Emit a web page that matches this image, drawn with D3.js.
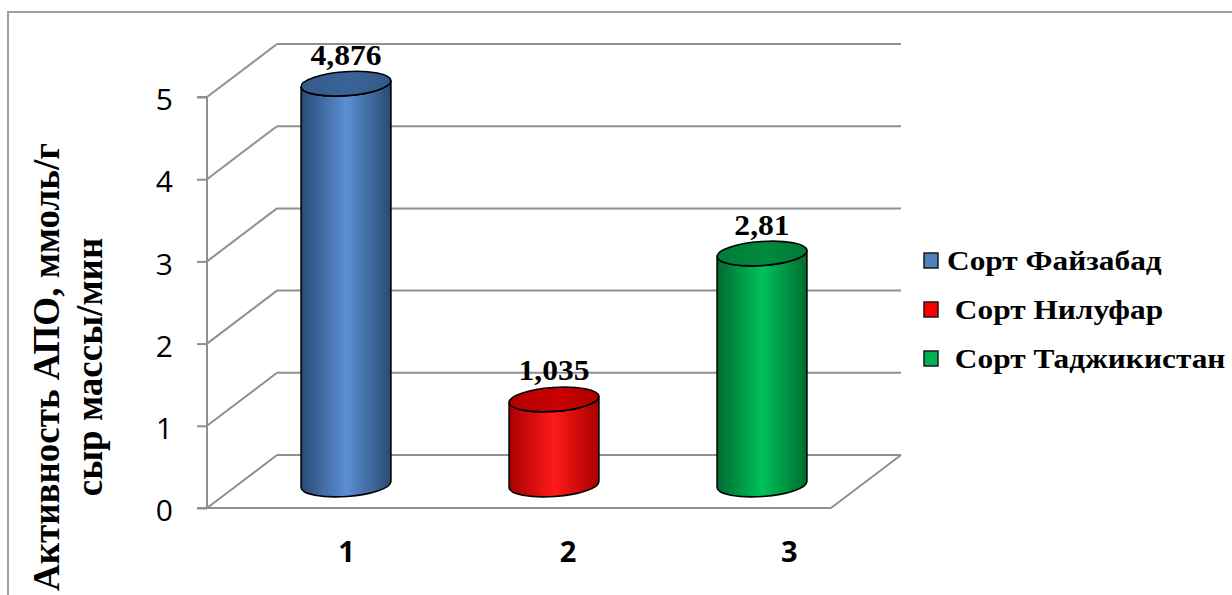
<!DOCTYPE html>
<html>
<head>
<meta charset="utf-8">
<script src="https://cdn.jsdelivr.net/npm/d3@7"></script>
<style>
  html, body { margin: 0; padding: 0; background: #fff; }
  svg { display: block; }
</style>
</head>
<body>
<svg id="chart" width="1232" height="595"></svg>
<script>
// Activity of ascorbate peroxidase (APO) in three varieties
const categories = ["1", "2", "3"];
const seriesNames = ["Сорт Файзабад", " Сорт Нилуфар", " Сорт Таджикистан"];
const values = [4.876, 1.035, 2.81];
const valueLabels = ["4,876", "1,035", "2,81"];
const yTicks = [0, 1, 2, 3, 4, 5];
const axisTitle = ["Активность АПО, ммоль/г", "сыр массы/мин"];

const fills = [
  { edge: "#2a4a74", mid: "#5b8fd4", top: "#3a6498", swatch: "#4f81bd" },
  { edge: "#a80000", mid: "#ff1a1a", top: "#c80000", swatch: "#ff0000" },
  { edge: "#006b30", mid: "#00c25a", top: "#008a3e", swatch: "#00b050" }
];

const svg = d3.select("#chart");
const gridColor = "#8f8f8f";
const serif = "'Liberation Serif', 'Times New Roman', serif";

// depth offset of the back wall relative to the front plane
const DX = 70, DY = -53;

const x = d3.scaleBand().domain(categories).range([207, 831]).padding(0);
const xLabel = d3.scaleBand().domain(categories).range([236, 900]).padding(0);
const y = d3.scaleLinear().domain([0, 5]).range([508, 97]);

// text drawn slightly wide, as in the original layout
function wideText(parent, tx, ty, sx, str, size, anchor) {
  return parent.append("text")
    .attr("transform", `translate(${tx},${ty}) scale(${sx},1)`)
    .attr("text-anchor", anchor)
    .attr("font-family", serif)
    .attr("font-weight", "bold")
    .attr("font-size", size)
    .style("white-space", "pre")
    .text(str);
}

// outer frame
svg.append("path")
  .attr("d", "M8,595 L8,12 L1232,12")
  .attr("fill", "none").attr("stroke", "#a0a0a0").attr("stroke-width", 2);

const grid = svg.append("g").attr("stroke", gridColor).attr("stroke-width", 2).attr("fill", "none");
const x0 = x.range()[0], x1 = x.range()[1];

// back wall gridlines and side wall diagonals
yTicks.forEach(t => {
  const yy = y(t);
  grid.append("line").attr("x1", x0 + DX).attr("x2", x1 + DX).attr("y1", yy + DY).attr("y2", yy + DY);
  grid.append("line").attr("x1", x0).attr("x2", x0 + DX).attr("y1", yy).attr("y2", yy + DY);
});
// floor front edge and right edge
grid.append("line").attr("x1", x0).attr("x2", x1).attr("y1", y(0)).attr("y2", y(0));
grid.append("line").attr("x1", x1).attr("x2", x1 + DX).attr("y1", y(0)).attr("y2", y(0) + DY);

// vertical value axis with ticks
const yAxis = d3.axisLeft(y).tickValues(yTicks).tickSize(10).tickPadding(24).tickFormat(d3.format("d"));
const ag = svg.append("g").attr("transform", `translate(${x0},0)`).call(yAxis);
ag.select(".domain").attr("stroke", gridColor).attr("stroke-width", 2).attr("d", `M-10,${y(5)}H0V${y(0)}H-10`);
ag.selectAll(".tick line").attr("stroke", gridColor).attr("stroke-width", 2);
ag.selectAll(".tick text")
  .attr("font-family", "'Open Sans', sans-serif")
  .attr("font-size", 30)
  .attr("fill", "#000")
  .attr("dy", "0.42em");

// category axis labels
svg.append("g").selectAll("text").data(categories).join("text")
  .attr("x", d => xLabel(d) + xLabel.bandwidth() / 2)
  .attr("y", 562)
  .attr("text-anchor", "middle")
  .attr("font-family", "'Open Sans', sans-serif")
  .attr("font-weight", "bold")
  .attr("font-size", 29)
  .text(d => d);

// gradients for cylinder bodies and tops
const defs = svg.append("defs");
fills.forEach((f, i) => {
  const g = defs.append("linearGradient").attr("id", "body" + i)
    .attr("x1", "0%").attr("x2", "100%").attr("y1", "0%").attr("y2", "0%");
  g.append("stop").attr("offset", "0%").attr("stop-color", f.edge);
  g.append("stop").attr("offset", "50%").attr("stop-color", f.mid);
  g.append("stop").attr("offset", "100%").attr("stop-color", f.edge);
  const t = defs.append("linearGradient").attr("id", "top" + i)
    .attr("x1", "0%").attr("x2", "100%").attr("y1", "0%").attr("y2", "0%");
  t.append("stop").attr("offset", "0%").attr("stop-color", d3.color(f.top).darker(0.3));
  t.append("stop").attr("offset", "55%").attr("stop-color", f.top);
  t.append("stop").attr("offset", "100%").attr("stop-color", d3.color(f.top).darker(0.4));
});

// cylinders
const RX = 45, RY = 12, ROT = -4;
const cr = Math.cos(ROT * Math.PI / 180), sr = Math.sin(ROT * Math.PI / 180);
const bars = svg.append("g");
values.forEach((v, i) => {
  const cx = x(categories[i]) + x.bandwidth() / 2 + DX / 2;
  const yb = y(0) + DY / 2 + 3;
  const yt = y(v) + DY / 2 + 3;
  const lx = cx - RX * cr, ly = -RX * sr, rx = cx + RX * cr, ry = RX * sr;
  const body = `M${lx},${yt + ly} L${lx},${yb + ly} A${RX},${RY} ${ROT} 0 0 ${rx},${yb + ry} L${rx},${yt + ry} A${RX},${RY} ${ROT} 0 1 ${lx},${yt + ly} Z`;
  bars.append("path").attr("d", body)
    .attr("fill", `url(#body${i})`).attr("stroke", "#000").attr("stroke-width", 1.6);
  bars.append("ellipse")
    .attr("cx", cx).attr("cy", yt).attr("rx", RX).attr("ry", RY)
    .attr("transform", `rotate(${ROT},${cx},${yt})`)
    .attr("fill", `url(#top${i})`).attr("stroke", "#000").attr("stroke-width", 1.6);
  // value label
  wideText(svg, cx, yt - 19, 1.09, valueLabels[i], 29, "middle");
});

// axis title
const title = svg.append("text")
  .attr("transform", "translate(59,367) rotate(-90)")
  .attr("text-anchor", "middle")
  .attr("font-family", serif)
  .attr("font-weight", "bold")
  .attr("font-size", 37);
title.append("tspan").attr("x", 0).attr("y", 0).text(axisTitle[0]);
title.append("tspan").attr("x", 0).attr("y", 43).text(axisTitle[1]);

// legend
const legend = svg.append("g");
const legendY = [270, 319, 368];
seriesNames.forEach((name, i) => {
  legend.append("rect")
    .attr("x", 924).attr("y", legendY[i] - 17).attr("width", 14).attr("height", 15)
    .attr("fill", fills[i].swatch).attr("stroke", "#1a1a1a").attr("stroke-width", 1.5);
  wideText(legend, 947, legendY[i], 1.12, name, 28, "start");
});
</script>
</body>
</html>
